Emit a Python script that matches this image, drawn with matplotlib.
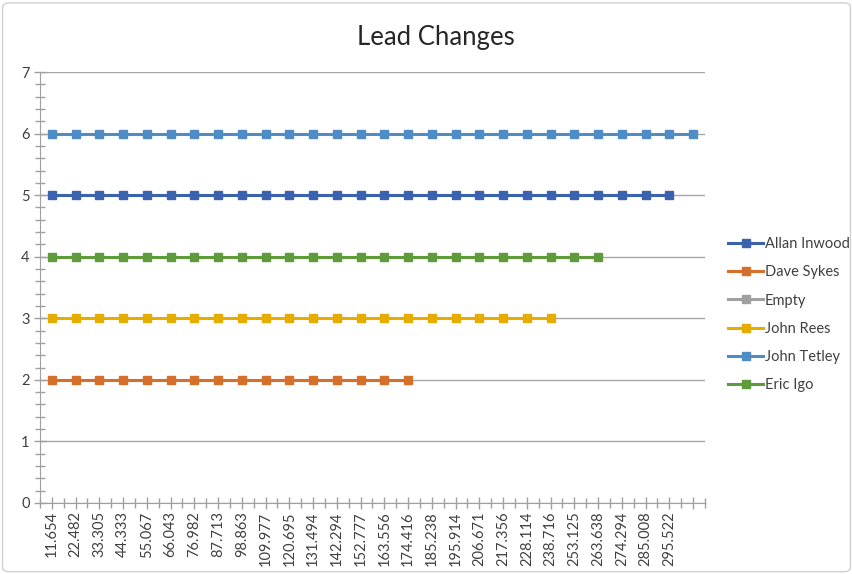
import matplotlib.pyplot as plt
import numpy as np
from matplotlib.patches import FancyBboxPatch
from matplotlib.ticker import MultipleLocator

plt.rcParams['font.family'] = ['Lato', 'DejaVu Sans']

categories = ["11.654", "22.482", "33.305", "44.333", "55.067", "66.043", "76.982",
              "87.713", "98.863", "109.977", "120.695", "131.494", "142.294", "152.777",
              "163.556", "174.416", "185.238", "195.914", "206.671", "217.356", "228.114",
              "238.716", "253.125", "263.638", "274.294", "285.008", "295.522", ""]

allan_inwood = [5] * 27
dave_sykes = [2] * 16
empty = []
john_rees = [3] * 22
john_tetley = [6] * 28
eric_igo = [4] * 24

series = [
    ("Allan Inwood", allan_inwood, "#3b62ae"),
    ("Dave Sykes", dave_sykes, "#d5702b"),
    ("Empty", empty, "#a0a0a0"),
    ("John Rees", john_rees, "#e6ac00"),
    ("John Tetley", john_tetley, "#4f8cc6"),
    ("Eric Igo", eric_igo, "#5f9a3b"),
]

fig = plt.figure(figsize=(8.53, 5.74), dpi=100)
fig.patches.append(FancyBboxPatch((0.003, 0.004), 0.994, 0.991, boxstyle="round,pad=0,rounding_size=0.008",
                                  transform=fig.transFigure, fill=False, edgecolor="#d0d0d0", lw=1))
ax = fig.add_axes([40 / 853, 1 - 503 / 574, 665 / 853, 431 / 574])

for name, vals, col in series:
    x = np.arange(len(vals))
    ax.plot(x, vals, color=col, lw=2.2, marker="s", markersize=6, label=name)

ax.set_xlim(-0.5, len(categories) - 0.5)
ax.set_ylim(0, 7)
ax.set_xticks(np.arange(len(categories)))
ax.set_xticklabels(categories, rotation=90, fontsize=10.5, color="#404040")
ax.set_xticks(np.arange(-0.5, len(categories)), minor=True)
ax.yaxis.set_major_locator(MultipleLocator(1))
ax.yaxis.set_minor_locator(MultipleLocator(0.2))
ax.tick_params(axis="y", labelsize=10.5, labelcolor="#404040")
ax.tick_params(which="both", direction="inout", color="#a0a0a0", width=1)
ax.tick_params(which="major", length=8)
ax.tick_params(which="minor", length=7)
ax.tick_params(axis="x", which="major", pad=2)

ax.grid(axis="y", color="#a6a6a6", lw=1)
ax.set_axisbelow(True)
for s in ["top", "right"]:
    ax.spines[s].set_visible(False)
for s in ["left", "bottom"]:
    ax.spines[s].set_color("#a0a0a0")

fig.text(436 / 853, 1 - 37 / 574, "Lead Changes", fontsize=18.5, color="#262626",
         ha="center", va="center")

ax.legend(loc="center left", bbox_to_anchor=(1.015, 0.437), frameon=False, fontsize=10.5,
          handlelength=2.4, handletextpad=0.1, labelspacing=0.98, markerscale=0.9,
          labelcolor="#404040")

fig.savefig("out.png", dpi=100)
